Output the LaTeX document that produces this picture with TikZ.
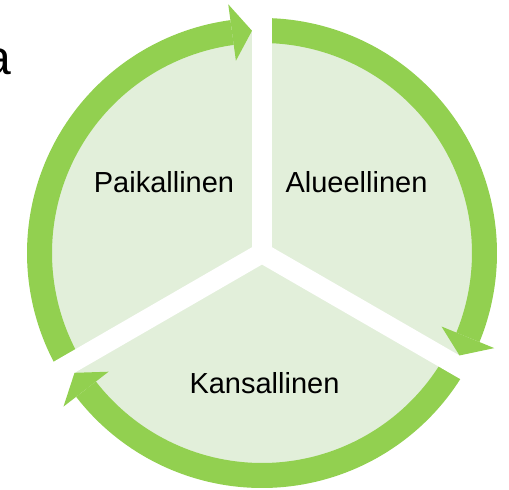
\documentclass[tikz,border=0pt]{standalone}
\usepackage{fontspec}
\setmainfont{Liberation Sans}
\usepackage{tikz}

\definecolor{ringgreen}{HTML}{92D050}
\definecolor{palegreen}{HTML}{E2EFDA}

\begin{document}
\begin{tikzpicture}[x=1pt,y=1pt,
    gapband/.style={white,line width=20pt,line cap=butt},
    arrowbody/.style={fill=ringgreen},
    label/.style={anchor=base,font=\fontsize{29}{34}\selectfont,text=black}]
    \useasboundingbox (-262,-237) rectangle (247,253);

    % draw pale disc
    \fill[palegreen] (0,0) circle[radius=222.5];

    % draw arrow bodies
    \foreach \g in {210,90,-30}
      \fill[arrowbody] (\g-0.5:210) arc[start angle=\g-0.5,end angle=\g-112.27,radius=210]
        -- (\g-112.27:235) arc[start angle=\g-112.27,end angle=\g-0.5,radius=235] -- cycle;

    % draw gaps
    \foreach \g in {210,90,-30}
      \draw[gapband] (0,0) -- (\g:262);

    % draw arrow heads
    \foreach \g in {210,90,-30}
      \fill[arrowbody] (\g-112.27:194) -- (\g-117.42:222.5) -- (\g-112.27:251) -- cycle;

    % draw nodes
    \node[label] (paik) at (-98,60) {Paikallinen};
    \node[label] (alue) at (94.5,60) {Alueellinen};
    \node[label] (kans) at (2.5,-140) {Kansallinen};
    \node[anchor=base east,font=\fontsize{48}{56}\selectfont,inner sep=0pt] (title) at (-251,178) {a};

\end{tikzpicture}
\end{document}
